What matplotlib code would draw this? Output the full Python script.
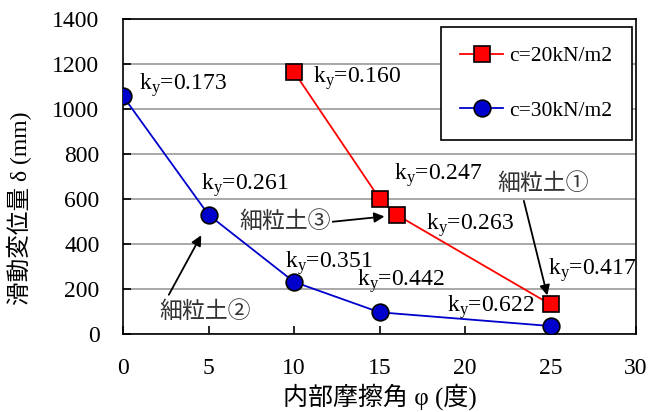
import matplotlib
matplotlib.use("Agg")
import matplotlib.pyplot as plt

plt.rcParams['font.family'] = ['Liberation Serif', 'Noto Sans CJK JP']
plt.rcParams['mathtext.fontset'] = 'custom'
plt.rcParams['mathtext.rm'] = 'Liberation Serif'
plt.rcParams['mathtext.it'] = 'Liberation Serif:italic'

# data
phi_20 = [10, 15, 16, 25]
disp_20 = [1165, 602, 530, 132]
phi_30 = [0, 5, 10, 15, 25]
disp_30 = [1057, 530, 232, 97, 36]

ky_labels = ['0.173', '0.160', '0.261', '0.247', '0.263', '0.351', '0.442', '0.622', '0.417']
ky_pos = [(0.95, 1107), (11.1, 1138), (4.55, 662), (15.85, 707), (17.7, 484),
          (9.45, 316), (13.7, 236), (18.95, 120), (24.85, 284)]

soil_labels = ['細粒土①', '細粒土②', '細粒土③']
soil_text = [(24.55, 667), (4.8, 98), (9.47, 498)]
soil_tail = [(23.4, 604), (2.6, 164), (12.1, 498)]
soil_head = [(24.85, 160), (4.65, 450), (15.45, 524)]

fig = plt.figure(figsize=(6.51, 4.12), dpi=100)
ax = fig.add_axes([0.189, 0.189, 0.788, 0.765])

ax.plot(phi_20, disp_20, color='red', lw=1.3, marker='s', ms=12,
        mfc='red', mec='black', mew=1.2, label='c=20kN/m2', zorder=3)
ax.plot(phi_30, disp_30, color='#0000cc', lw=1.3, marker='o', ms=12,
        mfc='#0000cc', mec='black', mew=1.2, label='c=30kN/m2', zorder=3)

for lab, (x, y) in zip(ky_labels, ky_pos):
    ax.text(x, y, r'k$_\mathrm{y}$=' + lab, fontsize=17, ha='left', va='center', zorder=4)

for lab, t, tail, head in zip(soil_labels, soil_text, soil_tail, soil_head):
    ax.text(t[0], t[1], lab, fontsize=16.5, ha='center', va='center', color='#333333')
    ax.annotate('', xy=head, xytext=tail,
                arrowprops=dict(arrowstyle='-|>', color='black', lw=1.3, mutation_scale=15))

ax.set_xlim(0, 30)
ax.set_ylim(0, 1400)
ax.set_xticks(range(0, 31, 5))
ax.set_yticks(range(0, 1401, 200))
ax.tick_params(axis='both', direction='in', labelsize=17, length=6, width=1.2)
ax.tick_params(axis='x', pad=17)
ax.tick_params(axis='y', pad=17)
ax.yaxis.grid(True, color='#999999', lw=1.2)
ax.set_axisbelow(True)
for s in ax.spines.values():
    s.set_linewidth(1.2)

ax.set_xlabel('内部摩擦角 φ (度)', fontsize=18, labelpad=3)
ax.set_ylabel('滑動変位量 δ (mm)', fontsize=17)
ax.yaxis.set_label_coords(-0.178, 0.4)

leg = ax.legend(loc='upper right', bbox_to_anchor=(0.992, 0.975), fontsize=15.5,
                fancybox=False, framealpha=1, edgecolor='black', labelspacing=1.6,
                handlelength=2.0, borderpad=0.9, handletextpad=0.3, borderaxespad=0)
leg.get_frame().set_linewidth(1.2)

fig.savefig('out.png', dpi=100)
